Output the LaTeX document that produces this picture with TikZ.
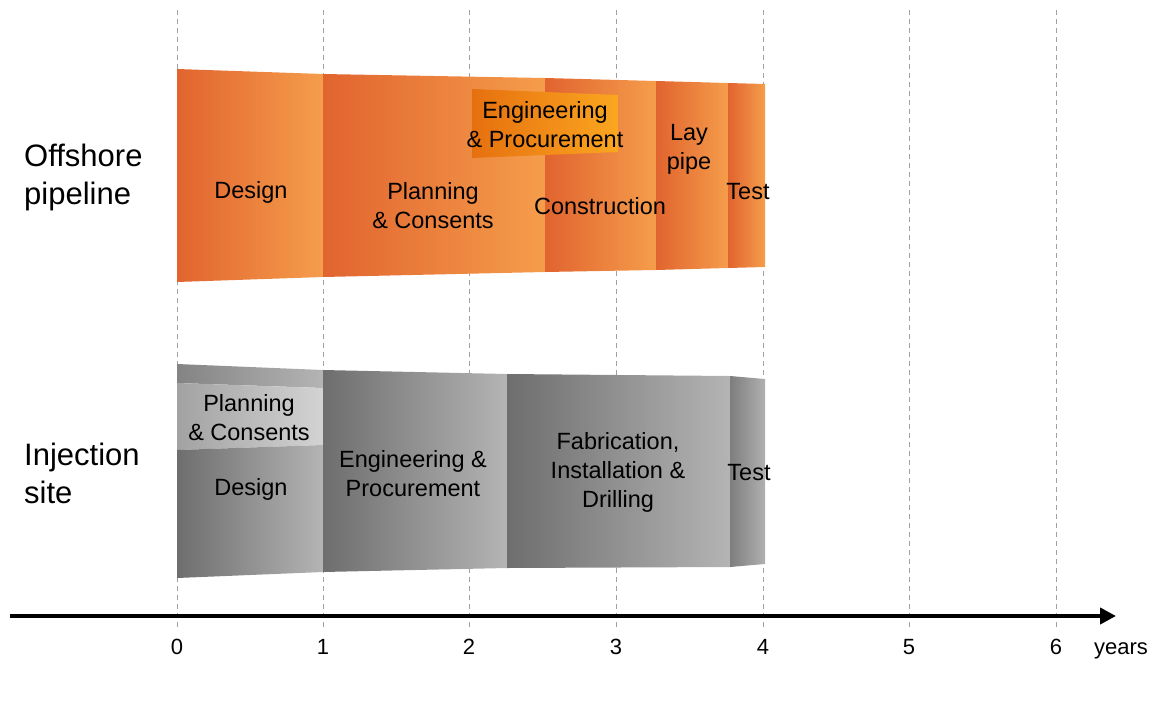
\documentclass[tikz,border=0pt]{standalone}
\usepackage{fontspec}
\setmainfont{Liberation Sans}
\usetikzlibrary{arrows.meta}
\definecolor{orD}{HTML}{E1642F}
\definecolor{orL}{HTML}{F59D4B}
\definecolor{epD}{HTML}{E6700F}
\definecolor{epL}{HTML}{FBA620}
\definecolor{grD}{HTML}{6E6E6E}
\definecolor{grL}{HTML}{B4B4B4}
\definecolor{pcD}{HTML}{A2A2A2}
\definecolor{pcL}{HTML}{D3D3D3}
\definecolor{tsD}{HTML}{7E7E7E}
\definecolor{tsL}{HTML}{B0B0B0}
\definecolor{gridc}{HTML}{A0A0A0}
\tikzset{
  lbl/.style={align=center, inner sep=0pt, font=\fontsize{23.5}{29}\selectfont},
  rowlbl/.style={align=left, anchor=west, inner sep=0pt, font=\fontsize{31}{38}\selectfont},
  ticklbl/.style={inner sep=0pt, anchor=base, font=\fontsize{22}{26}\selectfont},
  gridline/.style={gridc, line width=1pt, dash pattern=on 5pt off 4pt},
  orseg/.style={left color=orD, right color=orL},
  grseg/.style={left color=grD, right color=grL}
}
\begin{document}
\begin{tikzpicture}[x=1pt,y=-1pt]
\useasboundingbox (0,0) rectangle (1159,702);
% grid lines
\foreach \i/\xx in {0/177,1/323,2/469,3/616,4/763,5/909,6/1056}{
  \coordinate (gt\i) at (\xx,10);
  \coordinate (gb\i) at (\xx,628);
  \draw[gridline] (gt\i) -- (gb\i);
}
% ---------- offshore pipeline band ----------
\shade[orseg] (177,69) -- (323,74) -- (323,277) -- (177,282) -- cycle;
\shade[orseg] (323,74) -- (545,78) -- (545,272) -- (323,277) -- cycle;
\shade[orseg] (545,78) -- (656,81) -- (656,270) -- (545,272) -- cycle;
\shade[orseg] (656,81) -- (728,83) -- (728,268) -- (656,270) -- cycle;
\shade[orseg] (728,83) -- (765,84) -- (765,267) -- (728,268) -- cycle;
\shade[left color=epD, right color=epL] (472,89) -- (618,95) -- (618,152) -- (472,158) -- cycle;
% ---------- injection site band ----------
\shade[left color=grD!85, right color=grL] (177,364) -- (323,370) -- (323,388) -- (177,383) -- cycle;
\shade[left color=pcD, right color=pcL] (177,383) -- (323,388) -- (323,445) -- (177,450) -- cycle;
\shade[grseg] (177,450) -- (323,445) -- (323,572) -- (177,578) -- cycle;
\shade[grseg] (323,370) -- (507,374) -- (507,568) -- (323,572) -- cycle;
\shade[grseg] (507,374) -- (730,376) -- (730,567) -- (507,568) -- cycle;
\shade[left color=tsD, right color=tsL] (730,376) -- (765,379) -- (765,564) -- (730,567) -- cycle;
% ---------- labels ----------
\node[rowlbl] (off) at (24,177) {Offshore\\pipeline};
\node[rowlbl] (inj) at (24,473) {Injection\\site};
\node[lbl] (o1) at (251,192) {Design};
\node[lbl] (o2) at (433,206) {Planning\\\& Consents};
\node[lbl] (o3) at (545,125) {Engineering\\\& Procurement};
\node[lbl] (o4) at (600,206) {Construction};
\node[lbl] (o5) at (689,149) {Lay\\pipe};
\node[lbl] (o6) at (748,192) {Test};
\node[lbl] (i0) at (249,418) {Planning\\\& Consents};
\node[lbl] (i1) at (251,489) {Design};
\node[lbl] (i2) at (413,474) {Engineering \&\\Procurement};
\node[lbl] (i3) at (618,472) {Fabrication,\\Installation \&\\Drilling};
\node[lbl] (i4) at (749,473) {Test};
% ---------- axis ----------
\coordinate (ax0) at (10,616);
\coordinate (ax1) at (1116,616);
\draw[line width=4pt, -{Triangle[length=16pt,width=16pt]}] (ax0) -- (ax1);
\foreach \i/\xx in {0/177,1/323,2/469,3/616,4/763,5/909,6/1056}{
  \node[ticklbl] (t\i) at (\xx,654) {\i};
}
\node[ticklbl] (yrs) at (1121,654) {years};
\end{tikzpicture}
\end{document}
